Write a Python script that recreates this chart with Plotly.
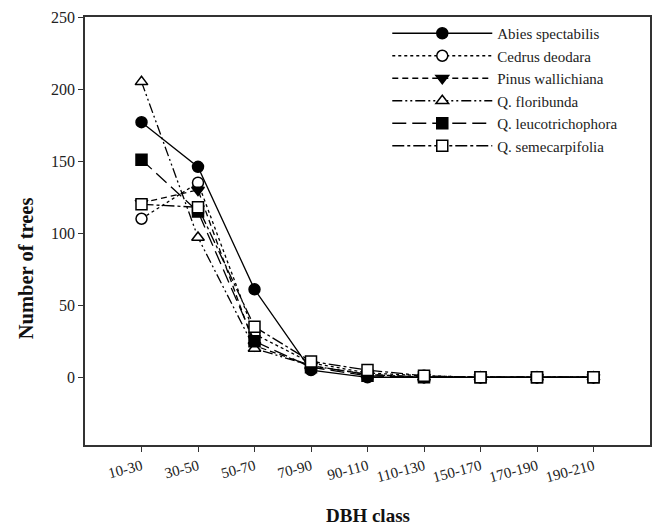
import plotly.graph_objects as go

dbh_classes = ["10-30", "30-50", "50-70", "70-90", "90-110", "110-130", "150-170", "170-190", "190-210"]
abies = [177, 146, 61, 5, 0, 0, 0, 0, 0]
cedrus = [110, 135, 30, 10, 3, 1, 0, 0, 0]
pinus = [121, 130, 22, 8, 2, 0, 0, 0, 0]
q_floribunda = [205, 97, 20, 8, 2, 0, 0, 0, 0]
q_leuco = [151, 115, 25, 7, 1, 0, 0, 0, 0]
q_semec = [120, 118, 35, 11, 5, 1, 0, 0, 0]

series = [
    ("Abies spectabilis", abies, "solid", "circle", "black"),
    ("Cedrus deodara", cedrus, "dot", "circle", "white"),
    ("Pinus wallichiana", pinus, "6px,4px", "triangle-down", "black"),
    ("Q. floribunda", q_floribunda, "10px,3px,2px,3px,2px,3px", "triangle-up", "white"),
    ("Q. leucotrichophora", q_leuco, "14px,6px", "square", "black"),
    ("Q. semecarpifolia", q_semec, "12px,3px,3px,3px", "square", "white"),
]

x_idx = list(range(len(dbh_classes)))
fig = go.Figure()
for name, vals, dash, sym, fill in series:
    fig.add_trace(go.Scatter(
        x=x_idx, y=vals, name=name, mode="lines+markers",
        line=dict(color="black", width=1.3, dash=dash),
        marker=dict(symbol=sym, size=11, color=fill,
                    line=dict(color="black", width=1.5)),
    ))

font_family = "Liberation Serif, Times New Roman, serif"
fig.update_layout(
    width=655, height=527,
    margin=dict(l=85, r=3, t=17, b=82),
    paper_bgcolor="white", plot_bgcolor="white",
    font=dict(family=font_family, size=15, color="#222"),
    showlegend=True,
    legend=dict(x=0.535, y=1.0, xanchor="left", yanchor="top",
                bgcolor="rgba(0,0,0,0)", borderwidth=0,
                font=dict(family=font_family, size=15, color="#222"),
                itemwidth=100, tracegroupgap=0),
    xaxis=dict(
        range=[-1, 9], tickmode="array", tickvals=x_idx, ticktext=dbh_classes,
        tickangle=-15, ticks="outside", ticklen=5, tickcolor="#333",
        showline=True, linecolor="#333", linewidth=1.5, mirror=True,
        showgrid=False, zeroline=False,
        tickfont=dict(family=font_family, size=15, color="#222"),
    ),
    yaxis=dict(
        range=[-47, 250], tickvals=[0, 50, 100, 150, 200, 250],
        ticks="outside", ticklen=5, tickcolor="#333",
        showline=True, linecolor="#333", linewidth=1.5, mirror=True,
        showgrid=False, zeroline=False,
        tickfont=dict(family=font_family, size=16, color="#222"),
    ),
    annotations=[
        dict(text="<b>DBH class</b>", xref="paper", yref="paper",
             x=(369 - 85) / 567, y=-(515 - 445) / 428, xanchor="center", yanchor="middle",
             showarrow=False, font=dict(family=font_family, size=19, color="#111")),
        dict(text="<b>Number of trees</b>", xref="paper", yref="paper",
             x=-(85 - 26) / 567, y=(445 - 268) / 428, xanchor="center", yanchor="middle",
             textangle=-90, showarrow=False,
             font=dict(family=font_family, size=20.5, color="#111")),
    ],
)

fig.write_html("out.html", config={"displayModeBar": False},
               post_script="document.body.style.margin='0';")
